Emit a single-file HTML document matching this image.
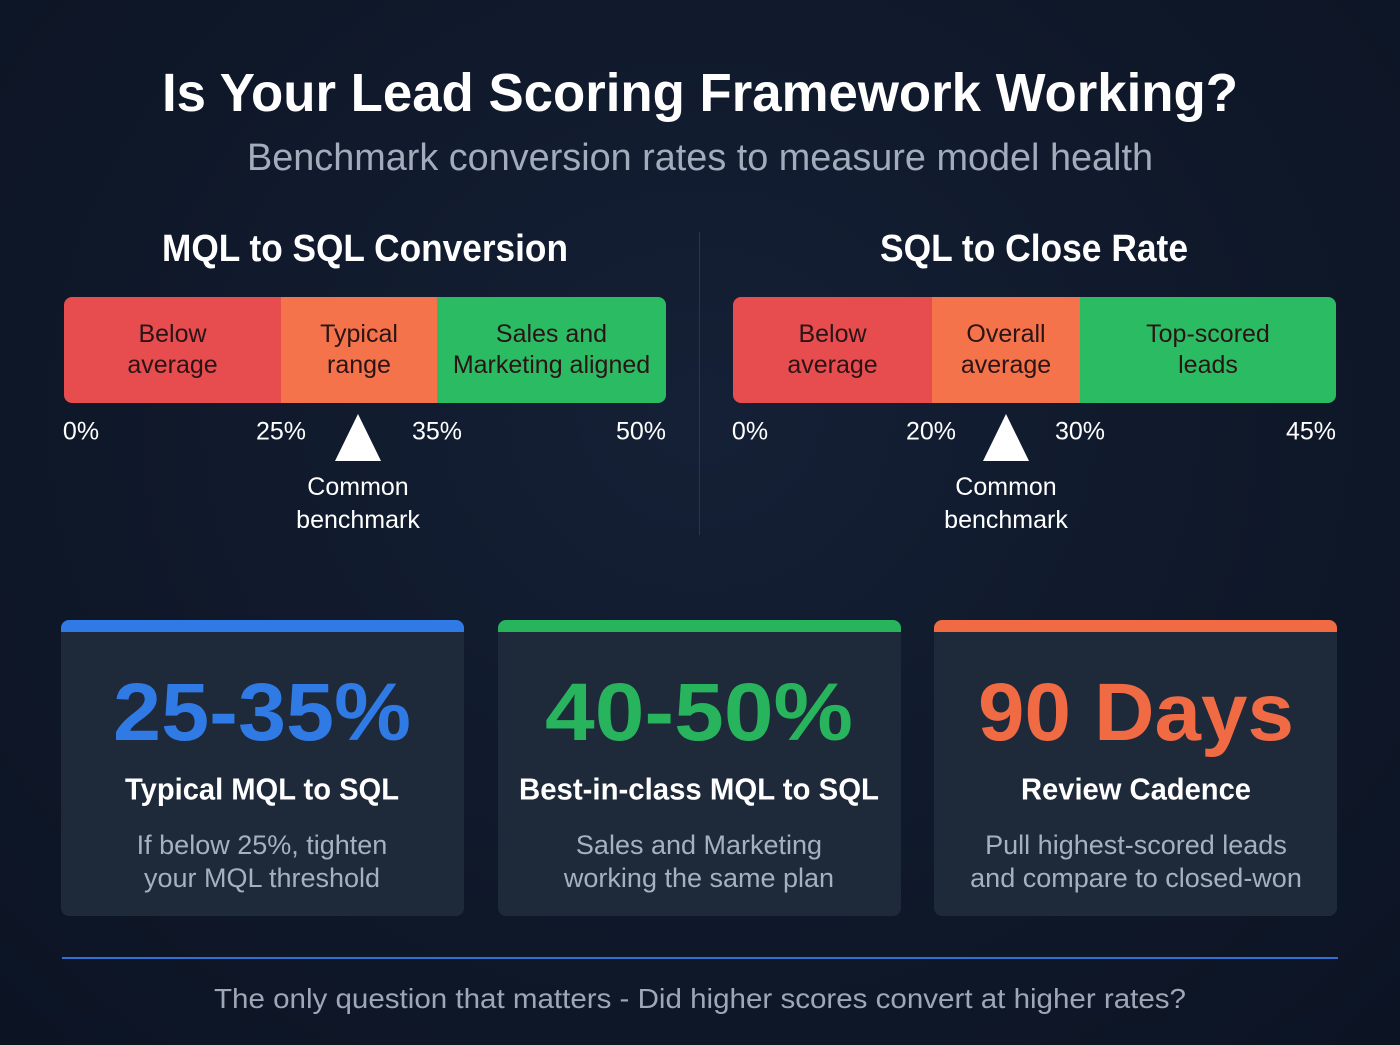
<!DOCTYPE html>
<html><head><meta charset="utf-8"><style>
body{margin:0;width:1400px;height:1045px;overflow:hidden;background:radial-gradient(ellipse at 50% 40%,#152036 0%,#0f1829 60%,#0c1424 100%);font-family:"Liberation Sans",sans-serif;position:relative}
.t{position:absolute;white-space:nowrap;transform-origin:center center;line-height:1}
.b{font-weight:bold}
.seg{position:absolute;display:flex;align-items:center;justify-content:center;text-align:center;color:#2a1416;font-size:25px;line-height:31px}
.card{position:absolute;top:620px;width:403px;height:296px;background:#1e293a;border-radius:8px;overflow:hidden}
.card .bar{height:12px}
</style></head><body>
<div class="t b" data-w="1076" style="left:700px;top:93px;font-size:54px;color:#fff">Is Your Lead Scoring Framework Working?</div>
<div class="t" data-w="906" style="left:700px;top:158px;font-size:38px;color:#a3acba">Benchmark conversion rates to measure model health</div>

<div class="t b" data-w="406" style="left:365px;top:249px;font-size:38px;color:#fff">MQL to SQL Conversion</div>
<div class="t b" data-w="308" style="left:1034px;top:249px;font-size:38px;color:#fff">SQL to Close Rate</div>
<div style="position:absolute;left:699px;top:232px;width:1px;height:303px;background:#2a3548"></div>

<div style="position:absolute;left:64px;top:297px;width:602px;height:106px;border-radius:8px;overflow:hidden">
<div class="seg" style="left:0;width:217px;height:106px;background:#e74c4f">Below<br>average</div>
<div class="seg" style="left:217px;width:156px;height:106px;background:#f4734a">Typical<br>range</div>
<div class="seg" style="left:373px;width:229px;height:106px;background:#2bbb63">Sales and<br>Marketing aligned</div>
</div>
<div style="position:absolute;left:733px;top:297px;width:603px;height:106px;border-radius:8px;overflow:hidden">
<div class="seg" style="left:0;width:199px;height:106px;background:#e74c4f">Below<br>average</div>
<div class="seg" style="left:199px;width:148px;height:106px;background:#f4734a">Overall<br>average</div>
<div class="seg" style="left:347px;width:256px;height:106px;background:#2bbb63">Top-scored<br>leads</div>
</div>

<div class="t" style="left:81px;top:432px;font-size:25px;color:#fff">0%</div>
<div class="t" style="left:281px;top:432px;font-size:25px;color:#fff">25%</div>
<div class="t" style="left:437px;top:432px;font-size:25px;color:#fff">35%</div>
<div class="t" style="left:641px;top:432px;font-size:25px;color:#fff">50%</div>
<div class="t" style="left:750px;top:432px;font-size:25px;color:#fff">0%</div>
<div class="t" style="left:931px;top:432px;font-size:25px;color:#fff">20%</div>
<div class="t" style="left:1080px;top:432px;font-size:25px;color:#fff">30%</div>
<div class="t" style="left:1311px;top:432px;font-size:25px;color:#fff">45%</div>

<svg style="position:absolute;left:0;top:0" width="1400" height="1045">
<polygon points="358,414 335,461 381,461" fill="#fff"/>
<polygon points="1006,414 983,461 1029,461" fill="#fff"/>
</svg>
<div class="t" style="left:358px;top:504px;font-size:25px;line-height:33px;color:#fff;text-align:center">Common<br>benchmark</div>
<div class="t" style="left:1006px;top:504px;font-size:25px;line-height:33px;color:#fff;text-align:center">Common<br>benchmark</div>

<div class="card" style="left:61px"><div class="bar" style="background:#2f7ae5"></div></div>
<div class="card" style="left:498px"><div class="bar" style="background:#27b45c"></div></div>
<div class="card" style="left:934px"><div class="bar" style="background:#f06a43"></div></div>

<div class="t b" data-w="298" style="left:262px;top:713px;font-size:82px;color:#2f7ae5">25-35%</div>
<div class="t b" data-w="308" style="left:699px;top:713px;font-size:82px;color:#27b45c">40-50%</div>
<div class="t b" data-w="316" style="left:1136px;top:713px;font-size:82px;color:#f06a43">90 Days</div>

<div class="t b" data-w="274" style="left:262px;top:789px;font-size:31px;color:#fff">Typical MQL to SQL</div>
<div class="t b" data-w="360" style="left:699px;top:789px;font-size:31px;color:#fff">Best-in-class MQL to SQL</div>
<div class="t b" data-w="230" style="left:1136px;top:789px;font-size:31px;color:#fff">Review Cadence</div>

<div class="t" style="left:262px;top:862px;font-size:27px;line-height:33px;color:#a7b0be;text-align:center">If below 25%, tighten<br>your MQL threshold</div>
<div class="t" style="left:699px;top:862px;font-size:27px;line-height:33px;color:#a7b0be;text-align:center">Sales and Marketing<br>working the same plan</div>
<div class="t" style="left:1136px;top:862px;font-size:27px;line-height:33px;color:#a7b0be;text-align:center">Pull highest-scored leads<br>and compare to closed-won</div>

<div style="position:absolute;left:62px;top:957px;width:1276px;height:2px;background:#2f6fd6"></div>
<div class="t" data-w="972" style="left:700px;top:999px;font-size:28px;color:#9ea7b5">The only question that matters - Did higher scores convert at higher rates?</div>
<script>
document.querySelectorAll('.t').forEach(function(el){
  var r=el.getBoundingClientRect();
  var w=+el.getAttribute('data-w')||r.width;
  var s=w/r.width;
  el.style.transform='translate(-50%,-50%) scaleX('+s+')';
});
</script>
</body></html>
